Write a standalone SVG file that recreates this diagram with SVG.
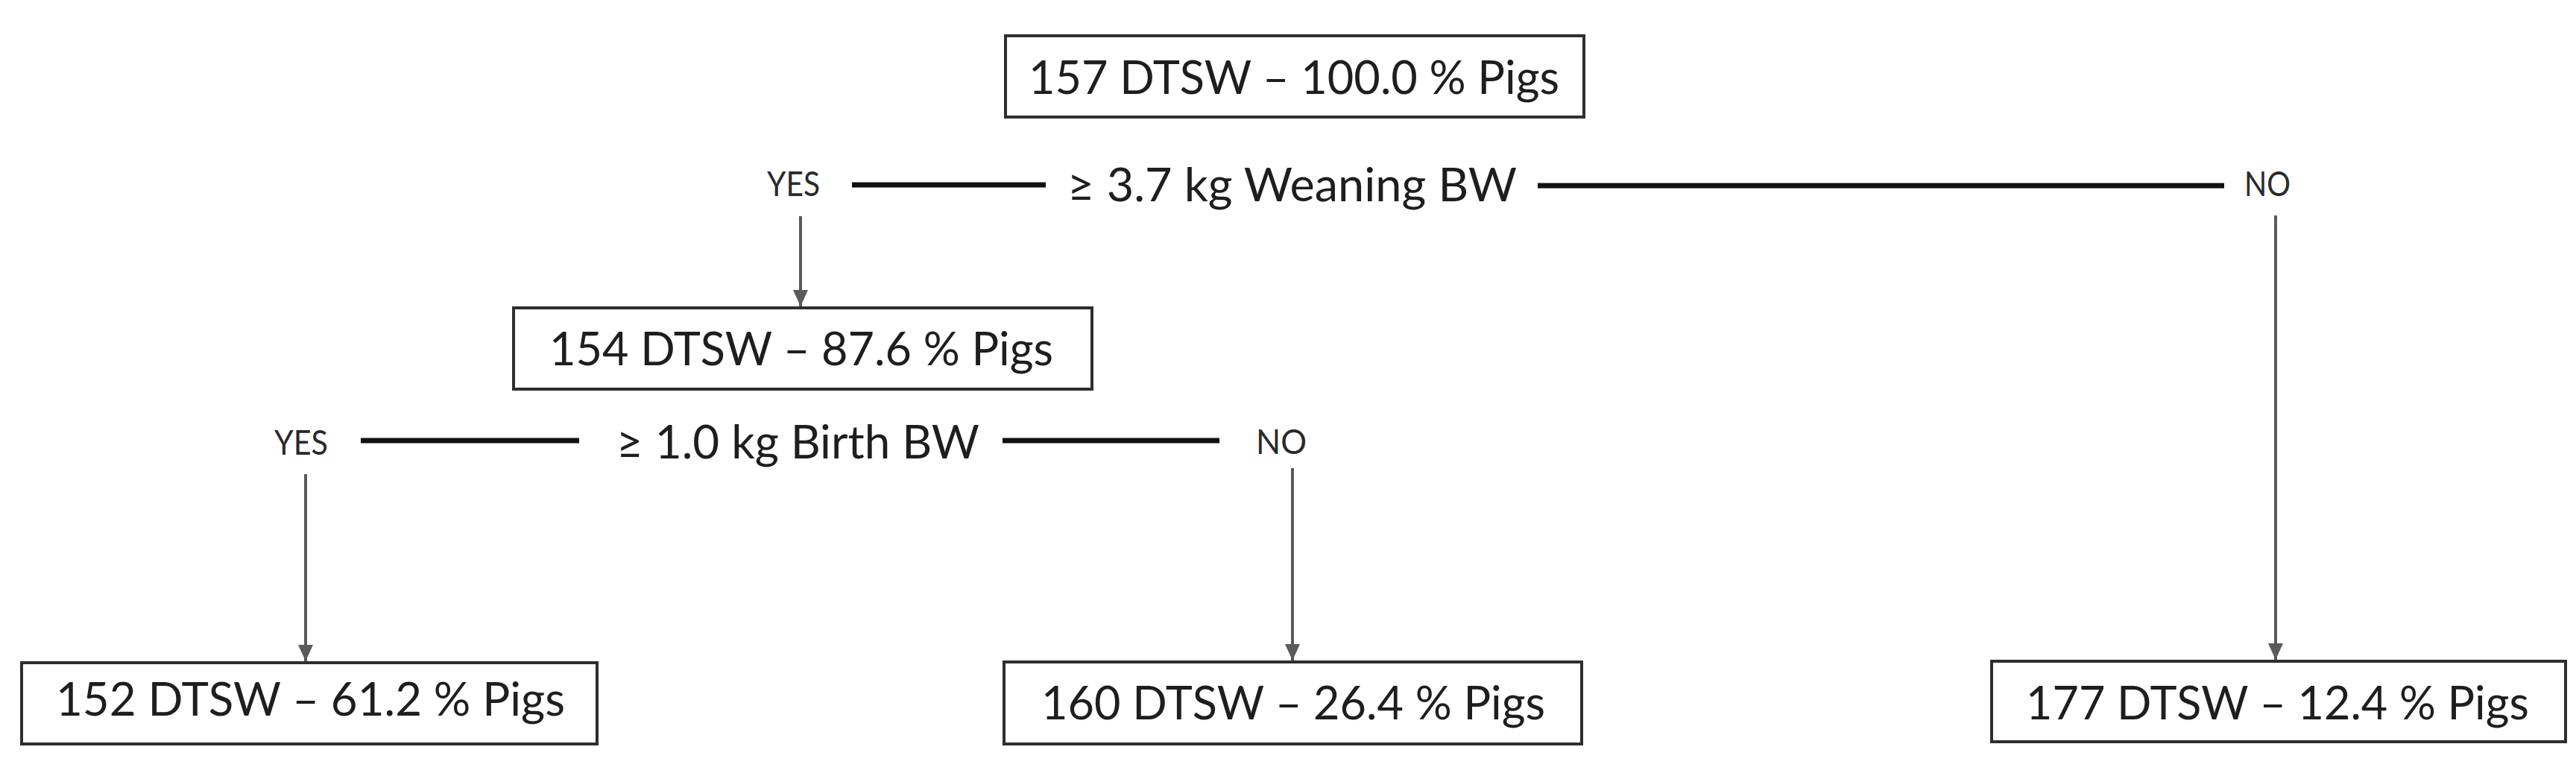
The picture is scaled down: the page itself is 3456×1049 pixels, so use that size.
<svg xmlns="http://www.w3.org/2000/svg" width="3456" height="1049" viewBox="0 0 3456 1049">
<defs>
<style>
.box{fill:#ffffff;stroke:#2e2e2e;stroke-width:4}
.t{font-family:Lato,"Liberation Sans",sans-serif;font-size:62px;fill:#1e1e1e}
.lab{font-family:Lato,"Liberation Sans",sans-serif;font-size:46px;fill:#2a2a2a}
.bar{stroke:#111111;stroke-width:7;fill:none}
.arr{stroke:#5a5a5a;stroke-width:4;fill:none;marker-end:url(#head)}
</style>
<marker id="head" viewBox="0 0 22 20" refX="22" refY="10" markerWidth="22" markerHeight="20" markerUnits="userSpaceOnUse" orient="auto">
<path d="M0,0 L22,10 L0,20 z" fill="#5a5a5a"/>
</marker>
</defs>
<rect width="3456" height="1049" fill="#ffffff"/>
<g id="connectors">
<line class="bar" x1="1143" y1="248" x2="1403" y2="248"/>
<line class="bar" x1="2063" y1="249" x2="2984" y2="249"/>
<line class="bar" x1="484" y1="591" x2="777" y2="591"/>
<line class="bar" x1="1345" y1="591" x2="1636" y2="591"/>
<line class="arr" x1="1074" y1="290" x2="1074" y2="411"/>
<line class="arr" x1="410" y1="636" x2="410" y2="887"/>
<line class="arr" x1="1734" y1="628" x2="1734" y2="886"/>
<line class="arr" x1="3053" y1="289" x2="3053" y2="885"/>
</g>
<g id="labels">
<text class="lab" x="1029" y="263" textLength="71" lengthAdjust="spacingAndGlyphs">YES</text>
<text class="t" x="1432" y="270" textLength="603" lengthAdjust="spacingAndGlyphs">≥ 3.7 kg Weaning BW</text>
<text class="lab" x="3011" y="263" textLength="62" lengthAdjust="spacingAndGlyphs">NO</text>
<text class="lab" x="368" y="610" textLength="72" lengthAdjust="spacingAndGlyphs">YES</text>
<text class="t" x="827" y="615" textLength="487" lengthAdjust="spacingAndGlyphs">≥ 1.0 kg Birth BW</text>
<text class="lab" x="1685" y="609" textLength="68" lengthAdjust="spacingAndGlyphs">NO</text>
</g>
<g id="n0">
<rect class="box" x="1349" y="48" width="776" height="109"/>
<text class="t" x="1380" y="126" textLength="712" lengthAdjust="spacingAndGlyphs">157 DTSW – 100.0 % Pigs</text>
</g>
<g id="n1">
<rect class="box" x="689" y="413" width="776" height="109"/>
<text class="t" x="737" y="490" textLength="676" lengthAdjust="spacingAndGlyphs">154 DTSW – 87.6 % Pigs</text>
</g>
<g id="n2">
<rect class="box" x="29" y="889" width="772" height="109"/>
<text class="t" x="75" y="960" textLength="683" lengthAdjust="spacingAndGlyphs">152 DTSW – 61.2 % Pigs</text>
</g>
<g id="n3">
<rect class="box" x="1347" y="888" width="775" height="110"/>
<text class="t" x="1397" y="965" textLength="676" lengthAdjust="spacingAndGlyphs">160 DTSW – 26.4 % Pigs</text>
</g>
<g id="n4">
<rect class="box" x="2672" y="887" width="770" height="108"/>
<text class="t" x="2718" y="965" textLength="675" lengthAdjust="spacingAndGlyphs">177 DTSW – 12.4 % Pigs</text>
</g>
</svg>
